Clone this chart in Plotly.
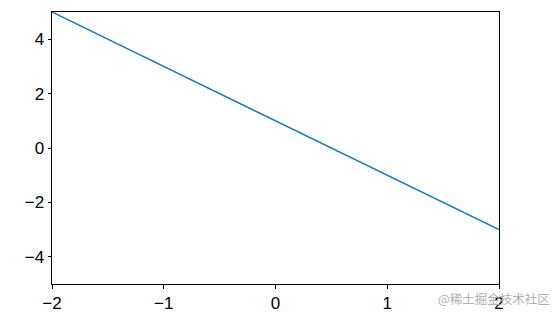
import plotly.graph_objects as go

x_vals = [-2, 2]
y_vals = [5, -3]
x_ticks = [-2, -1, 0, 1, 2]
y_ticks = [-4, -2, 0, 2, 4]

fig = go.Figure()
fig.add_trace(go.Scatter(x=x_vals, y=y_vals, mode="lines",
                         line=dict(color="#1f77b4", width=1.5), showlegend=False))

axis_common = dict(showgrid=False, zeroline=False, showline=True, linecolor="black",
                   linewidth=1, mirror=True, ticks="outside", ticklen=3.5, tickwidth=0.8,
                   tickcolor="black", automargin=False,
                   tickfont=dict(family="Liberation Sans, Arial", size=17, color="black"))

fig.update_xaxes(range=[-2, 2], tickvals=x_ticks, **axis_common)
fig.update_yaxes(range=[-5, 5], tickvals=y_ticks, **axis_common)

fig.add_annotation(text="@稀土掘金技术社区", xref="paper", yref="paper",
                   x=0.988, y=-0.055, xanchor="center", yanchor="middle", showarrow=False,
                   font=dict(family="Noto Sans CJK SC", size=12.5, color="#b0b0b0"))

fig.update_layout(width=556, height=315, margin=dict(l=52, r=57, t=12, b=31),
                  plot_bgcolor="white", paper_bgcolor="white")

fig.write_html("out.html")
